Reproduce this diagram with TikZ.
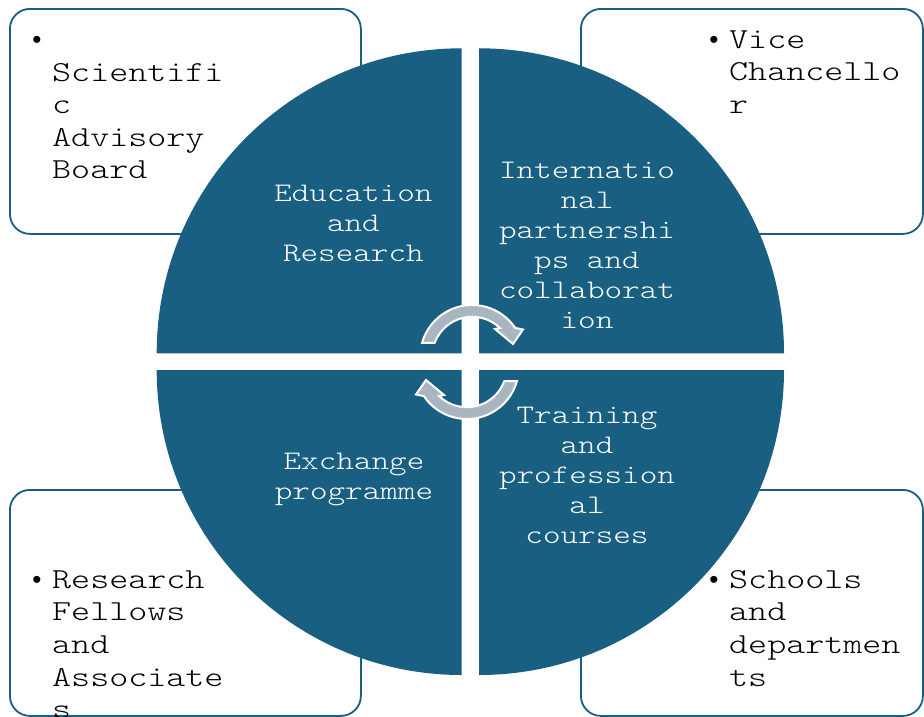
\documentclass[tikz,border=0pt]{standalone}
\usepackage{fontspec}
\newfontfamily\cour{lmmonolt10-regular.otf}[FakeStretch=1.25]
\newfontfamily\bulfont{Liberation Sans}
\definecolor{qcol}{HTML}{185F81}
\definecolor{arrcol}{HTML}{A9B5C1}
\newcommand\clines[1]{\vtop{\halign{\hfil##\hfil\cr#1\crcr}}}
\newcommand\llines[1]{\vtop{\halign{##\hfil\cr#1\crcr}}}
\begin{document}
\begin{tikzpicture}[x=1pt,y=-1pt,
  box/.style={draw=qcol, line width=1.8pt, rounded corners=20pt, fill=white,
    inner sep=0pt, anchor=north west},
  quad/.style={fill=qcol},
  arr/.style={fill=arrcol, draw=white, line width=2pt, line join=miter},
  qtext/.style={text=white, font=\cour\fontsize{26.8}{30}\selectfont, inner sep=0pt, anchor=base},
  btext/.style={text=black, font=\cour\fontsize{29}{32.6}\selectfont, inner sep=0pt, anchor=base west},
  bul/.style={text=black, font=\bulfont\fontsize{26}{26}\selectfont, inner sep=0pt, anchor=base}]
\useasboundingbox (0,0) rectangle (924,716);
\fill[white] (0,0) rectangle (924,716);
% corner boxes
\node[box, minimum width=351pt, minimum height=225pt] (b1) at (9,8) {};
\node[box, minimum width=342pt, minimum height=225pt] (b2) at (580,8) {};
\node[box, minimum width=351pt, minimum height=226pt] (b3) at (9,489) {};
\node[box, minimum width=342pt, minimum height=226pt] (b4) at (580,489) {};
% quadrants
\fill[quad] (461.7,353.3) -- (156.7,353.3) arc[start angle=180, end angle=270, radius=305] -- cycle;
\fill[quad] (479,353.3) -- (479,48.3) arc[start angle=270, end angle=360, radius=305] -- cycle;
\fill[quad] (461.7,370) -- (461.7,675) arc[start angle=90, end angle=180, radius=305] -- cycle;
\fill[quad] (479,370) -- (784,370) arc[start angle=0, end angle=90, radius=305] -- cycle;
% circular arrows
\draw[arr] (422,343) arc[start angle=195.6, end angle=326, radius=52] -- (523,329.5) -- (513,344) -- (495,329) -- (500,328) arc[start angle=314, end angle=200.5, radius=40] -- cycle;
\begin{scope}[rotate around={180:(469.5,362)}]
\draw[arr] (422,343) arc[start angle=195.6, end angle=326, radius=52] -- (523,329.5) -- (513,344) -- (495,329) -- (500,328) arc[start angle=314, end angle=200.5, radius=40] -- cycle;
\end{scope}
% quadrant texts
\node[qtext] (q1) at (353.4,201.7) {\clines{Education\cr and\cr Research}};
\node[qtext] (q2) at (587,178.3) {\clines{Internatio\cr nal\cr partnershi\cr ps and\cr collaborat\cr ion}};
\node[qtext] (q3) at (354,469.5) {\clines{Exchange\cr programme}};
\node[qtext] (q4) at (587,423) {\clines{Training\cr and\cr profession\cr al\cr courses}};
% box texts
\node[bul] (d1) at (37,48.5) {•};
\node[btext] (t1) at (52,81) {\llines{Scientifi\cr c\cr Advisory\cr Board}};
\node[bul] (d2) at (714,48.3) {•};
\node[btext] (t2) at (729,48.3) {\llines{Vice\cr Chancello\cr r}};
\node[bul] (d3) at (37,588.3) {•};
\node[btext] (t3) at (52,588.3) {\llines{Research\cr Fellows\cr and\cr Associate\cr s}};
\node[bul] (d4) at (714,588.3) {•};
\node[btext] (t4) at (729,588.3) {\llines{Schools\cr and\cr departmen\cr ts}};
\end{tikzpicture}
\end{document}
